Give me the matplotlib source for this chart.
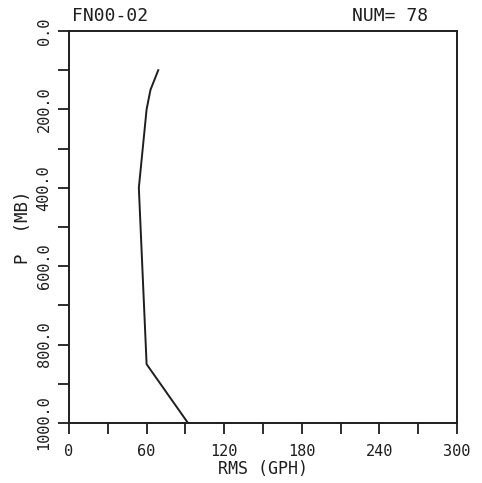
import matplotlib
matplotlib.use("Agg")
import matplotlib.pyplot as plt
import numpy as np

rms = [69, 63, 60, 54, 60, 92]
pressure = [100, 150, 200, 400, 850, 1000]
x_ticks = list(range(0, 301, 30))
x_labels = ["0", "", "60", "", "120", "", "180", "", "240", "", "300"]
y_ticks = list(range(0, 1001, 100))
y_labels = ["0.0", "", "200.0", "", "400.0", "", "600.0", "", "800.0", "", "1000.0"]

plt.rcParams["font.family"] = ["DejaVu Sans Mono"]
ink = "#1e1e1e"

fig = plt.figure(figsize=(4.82, 4.83), dpi=100)
ax = fig.add_axes([69/482, 1-423/483, (457-69)/482, (423-31)/483])
ax.plot(rms, pressure, color=ink, lw=1.4)
ax.set_xlim(0, 300)
ax.set_ylim(1000, 0)
ax.set_xticks(x_ticks)
ax.set_xticklabels(x_labels, fontsize=11, color=ink)
ax.set_yticks(y_ticks)
ax.set_yticklabels(y_labels, fontsize=11, rotation=90, va="center", color=ink)
ax.tick_params(axis="both", direction="out", length=8, width=1.3, color=ink)
ax.tick_params(axis="x", pad=7)
ax.tick_params(axis="y", pad=4.5)
for s in ax.spines.values():
    s.set_linewidth(1.4)
    s.set_color(ink)
ax.set_xlabel("RMS (GPH)", fontsize=12, labelpad=1, color=ink)
ax.set_ylabel("P  (MB)", fontsize=12.5, labelpad=3, color=ink)
fig.text(72/482, 1-16/483, "FN00-02", fontsize=13, va="center", ha="left", color=ink)
fig.text(428/482, 1-16/483, "NUM= 78", fontsize=13, va="center", ha="right", color=ink)
fig.savefig("out.png", dpi=100)
